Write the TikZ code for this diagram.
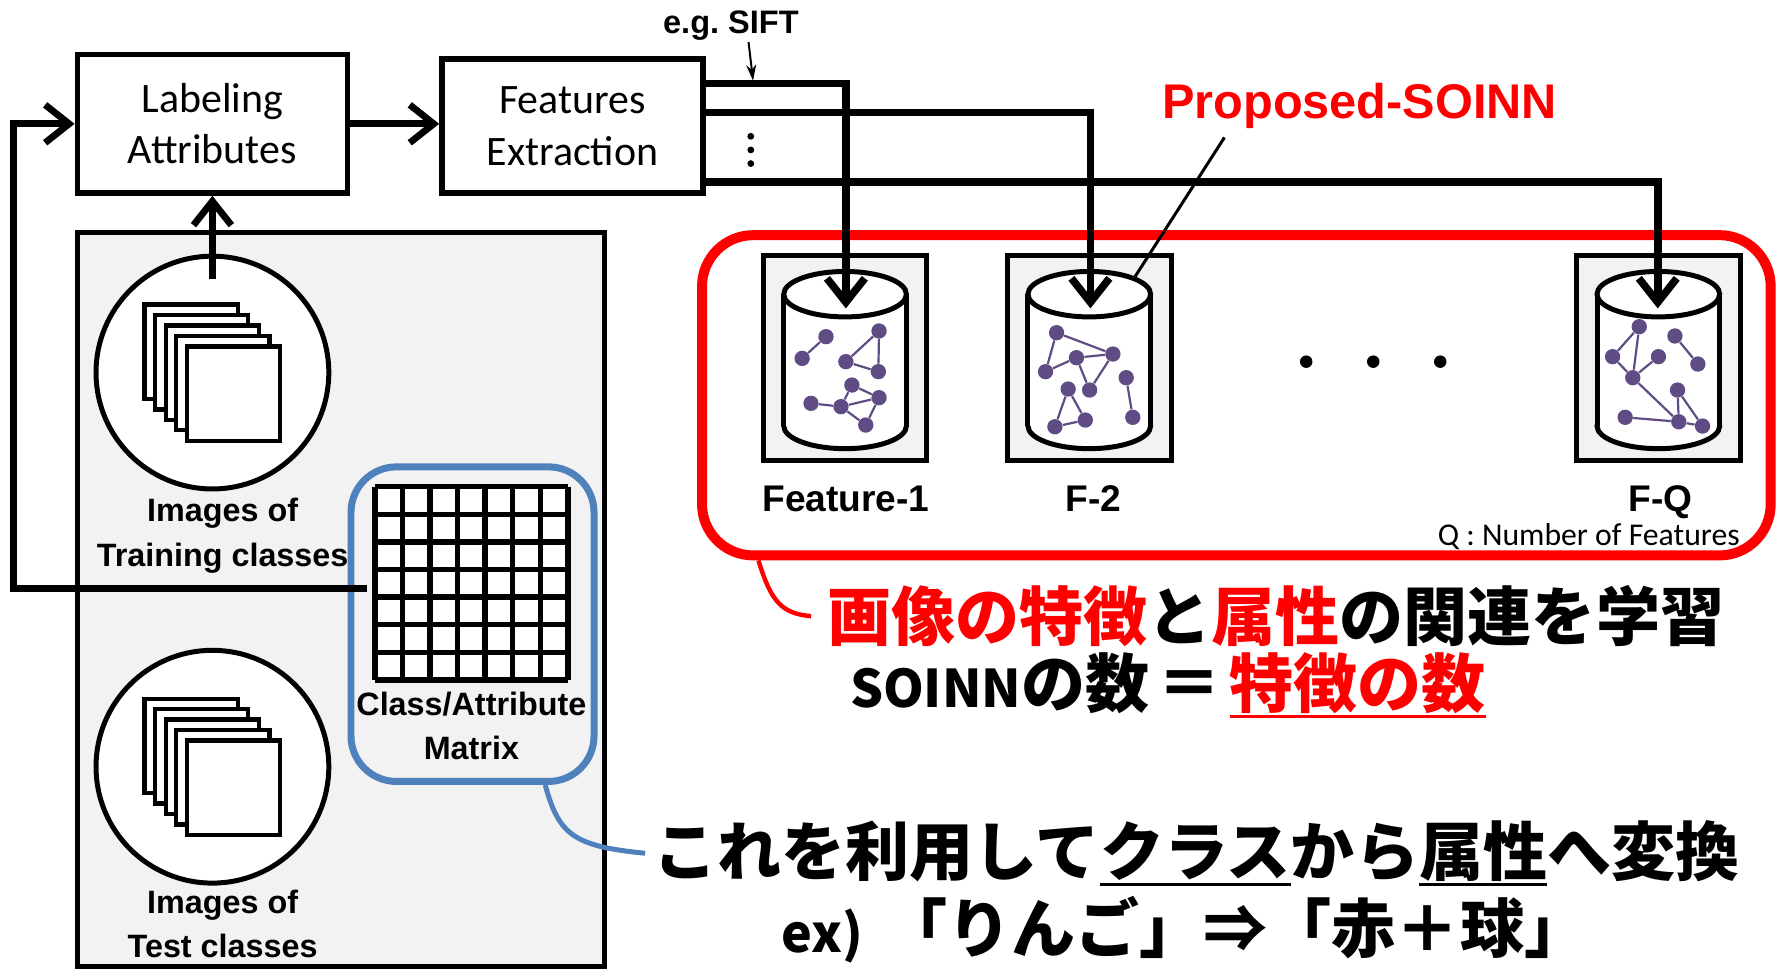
\documentclass[tikz,border=0pt]{standalone}
\usepackage{fontspec}
\setmainfont{Carlito}
\newfontfamily\lsans{Liberation Sans}
\newfontfamily\jpfont{Noto Sans CJK JP}[BoldFont={Noto Sans CJK JP Black}]
\usetikzlibrary{arrows.meta,calc}
\definecolor{panelgray}{HTML}{F2F2F2}
\definecolor{matblue}{HTML}{4F81BD}
\definecolor{graphpurple}{HTML}{604C84}
\definecolor{hlred}{HTML}{FF0000}
% underline drawn as a rule in the current colour
\newcommand\jpul[1]{\setbox0\hbox{#1}\rlap{\rule[-5pt]{\wd0}{1.4pt}}\box0}
\newcommand\jpbig{\fontsize{32.1}{38}\selectfont}
\newcommand\jplat{\fontsize{26}{30}\selectfont}
\tikzset{
  boxnode/.style={draw, line width=2.7pt, fill=white, inner sep=0pt, align=center,
    font=\fontsize{21}{25.8}\selectfont},
  flow/.style={line width=3.4pt},
  feat/.style={line width=3.8pt},
  chev/.style={-{Straight Barb[length=12pt,width=19pt]}},
  imgcircle/.style={circle, draw, line width=2.5pt, fill=white, minimum size=4.1cm, inner sep=0pt},
  boldlbl/.style={font=\lsans\bfseries\fontsize{16.2}{19}\selectfont, inner sep=0pt, anchor=base},
  featlbl/.style={font=\lsans\bfseries\fontsize{18.6}{22}\selectfont, inner sep=0pt, anchor=base},
  cylbox/.style={draw, line width=2.5pt, fill=panelgray, minimum width=2.88cm, minimum height=3.62cm, inner sep=0pt},
  gdot/.style={circle, fill=graphpurple, minimum size=0.27cm, inner sep=0pt},
  gedge/.style={draw=graphpurple, line width=1.1pt},
  jptext/.style={font=\jpfont\bfseries\jpbig, inner sep=0pt, anchor=base west},
  soinncyl/.pic={
    \fill[white] (0,375) ellipse[x radius=54, y radius=20];
    \draw[line width=2.5pt] (0,375) ellipse[x radius=54, y radius=20];
    \fill[white] (-54,259) rectangle (54,375);
    \draw[line width=2.5pt] (-54,259) -- (-54,375) (54,259) -- (54,375);
    \filldraw[line width=2.5pt, fill=white] (0,259) ellipse[x radius=54, y radius=20];
  },
  imgstack/.pic={
    \foreach \k in {4,3,2,1,0}{
      \draw[line width=2.2pt, fill=white] ({-22.5-9.3*\k},{-23-9.2*\k}) rectangle ++(82,83);
    }
  }
}
\begin{document}
\begin{tikzpicture}[x=0.02cm, y=-0.02cm, line join=miter]
\useasboundingbox (0,0) rectangle (1568,853.3);

% ---------- left panel: image sets and class/attribute matrix ----------
\draw[line width=2.5pt, fill=panelgray] (68,205) rectangle (532,851);

\node[imgcircle] (train) at (187,328) {};
\pic at (train.center) {imgstack};
\node[boldlbl] (trainlbl1) at (196,459) {Images of};
\node[boldlbl] (trainlbl2) at (196,499) {Training classes};

\node[imgcircle] (test) at (187,675) {};
\pic at (test.center) {imgstack};
\node[boldlbl] (testlbl1) at (196,804) {Images of};
\node[boldlbl] (testlbl2) at (196,842.6) {Test classes};

\node[draw=matblue, line width=3.5pt, rounded corners=0.8cm, minimum width=4.28cm,
      minimum height=5.54cm, inner sep=0pt] (mat) at (416,549.5) {};
\begin{scope}[shift={(330,428.5)}]
  \fill[white] (0,0) rectangle (170,170);
  \foreach \i in {0,...,7}{
    \draw[line width=2.7pt, line cap=square] ({\i*170/7},0) -- ({\i*170/7},170);
    \draw[line width=2.7pt, line cap=square] (0,{\i*170/7}) -- (170,{\i*170/7});
  }
\end{scope}
\node[boldlbl] (matlbl1) at (415,629.5) {Class/Attribute};
\node[boldlbl] (matlbl2) at (415,669) {Matrix};

% ---------- processing boxes ----------
\node[boxnode, minimum width=4.76cm, minimum height=2.44cm] (lab) at (187,109) {Labeling\\Attributes};
\node[boxnode, minimum width=4.6cm, minimum height=2.36cm] (fe) at (504,111) {Features\\Extraction};

\draw[flow, chev] (lab.east) -- (lab.east -| fe.west);
\coordinate (tin) at (187,246);
\draw[flow, chev] (tin) -- (lab.south);
\coordinate (fbstart) at (323,518);
\draw[flow, chev] (fbstart) -- (12,518) |- (lab.west);

% ---------- SOINN group ----------
\node[draw=hlred, line width=5pt, rounded corners=0.9cm, minimum width=18.82cm,
      minimum height=5.64cm, inner sep=0pt] (soinn) at (1088.5,348) {};

\node[cylbox] (fbox1) at (744,315) {};
\node[cylbox] (fbox2) at (959,315) {};
\node[cylbox] (fboxq) at (1460,315) {};
\pic at (744,0) {soinncyl};
\pic at (959,0) {soinncyl};
\pic at (1460,0) {soinncyl};

% graph inside Feature-1
\foreach \n/\x/\y in {a/727.2/296.4, b/706.2/315.5, c/773.9/291.4, d/744.7/318.4, e/773.3/327.2,
                      f/750/339, g/773.9/350.1, h/714/355.1, i/740.4/358, j/762.2/374.2}
  \node[gdot] (p1\n) at (\x,\y) {};
\foreach \u/\v in {a/b, c/d, c/e, d/e, f/g, f/i, h/i, i/g, i/j, g/j}
  \draw[gedge] (p1\u) -- (p1\v);

% graph inside F-2
\foreach \n/\x/\y in {p/930.2/292.9, q/979.8/311.7, r/947.7/314.9, s/920.5/327.2, t/991.5/332.5,
                      u/959.3/343.4, v/940.4/342.5, w/955.5/369.8, x/928.7/375.7, y/997.3/367.4}
  \node[gdot] (p2\n) at (\x,\y) {};
\foreach \u/\v in {p/q, p/s, s/r, r/q, r/u, u/q, v/w, v/x, x/w, t/y}
  \draw[gedge] (p2\u) -- (p2\v);

% graph inside F-Q
\foreach \n/\x/\y in {A/1443.2/287.6, B/1474.6/295.8, C/1419.7/314, D/1460.1/314, E/1494.8/320.5,
                      F/1437.5/332.5, G/1476.9/343.4, H/1430.8/367.4, I/1478/371.3, J/1498.9/375.1}
  \node[gdot] (pq\n) at (\x,\y) {};
\foreach \u/\v in {A/C, A/F, C/F, F/D, B/E, F/I, H/I, G/I, G/J, I/J}
  \draw[gedge] (pq\u) -- (pq\v);

\node[featlbl] (l1) at (744.7,450.5) {Feature-1};
\node[featlbl] (l2) at (962.6,450.5) {F-2};
\node[featlbl] (lq) at (1461.8,450.5) {F-Q};
\node[font=\fontsize{15.9}{19}\selectfont, inner sep=0pt, anchor=base east] (qnote) at (1532,480) {Q : Number of Features};

\foreach \x in {1150,1209,1268} \fill (\x,318.4) circle (5.5);

% ---------- feature streams ----------
\coordinate (k1) at (744.7,73.5);  \coordinate (t1) at (744.7,271.5);
\coordinate (k2) at (960,99);      \coordinate (t2) at (960,271.5);
\coordinate (k3) at (1459.5,160);  \coordinate (t3) at (1459.5,271.5);
\draw[feat, chev] (k1 -| fe.east) -- (k1) -- (t1);
\draw[feat, chev] (k2 -| fe.east) -- (k2) -- (t2);
\draw[feat, chev] (k3 -| fe.east) -- (k3) -- (t3);
\foreach \y in {120,132,144} \fill (661,\y) circle (3);

\node[font=\lsans\bfseries\fontsize{16.3}{19}\selectfont, inner sep=0pt, anchor=base] (sift) at (643.5,29.3) {e.g.\ SIFT};
\coordinate (siftTail) at (659,37);
\coordinate (siftTip) at (663,71);
\draw[line width=1pt, -{Stealth[length=8pt,width=5pt]}] (siftTail) -- (siftTip);

\node[font=\lsans\bfseries\fontsize{24.4}{28}\selectfont, text=hlred, inner sep=0pt, anchor=base] (prop) at (1197,104.2) {Proposed-SOINN};
\coordinate (ptail) at (1078,121);
\coordinate (phead) at (999,244);
\draw[line width=1.5pt] (ptail) -- (phead);

% ---------- Japanese notes ----------
\node[jptext] (jp1) at (728,564) {{\color{hlred}画像の特徴}と{\color{hlred}属性}の関連を学習};
\node[jptext] (jp2) at (748,623) {{\jplat SOINN}の数\hspace{4pt}＝\hspace{4pt}{\color{hlred}\jpul{特徴の数}}};
\node[jptext] (jp3) at (575,771) {これを利用して\jpul{クラス}から\jpul{属性}へ変換};
\node[jptext] (jp4) at (688,838.5) {{\jplat ex)}\hspace{10pt}「りんご」⇒「赤＋球」};

\draw[hlred, line width=2.2pt] ($(soinn.south west)+(54,0)$) .. controls (679,530) and (688,540) .. ([xshift=-0.28cm]jp1.west);
\draw[matblue, line width=2.5pt] ($(mat.south)+(64,0)$) .. controls (492,735) and (505,745) .. ([xshift=-0.14cm]jp3.west);
\end{tikzpicture}
\end{document}
